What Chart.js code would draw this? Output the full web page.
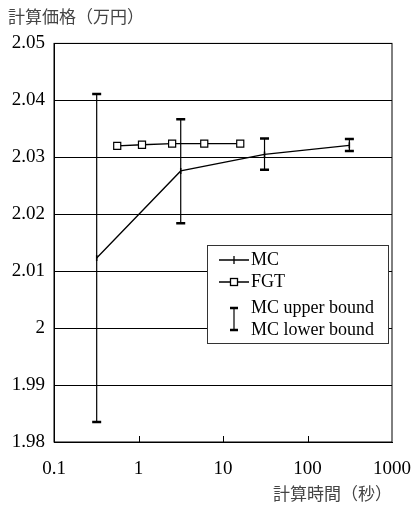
<!DOCTYPE html>
<html>
<head>
<meta charset="utf-8">
<script src="https://cdn.jsdelivr.net/npm/chart.js@4"></script>
<style>
  html, body { margin: 0; padding: 0; background: #fff; }
  #wrap { width: 416px; height: 507px; }
</style>
</head>
<body>
<div id="wrap"><canvas id="myChart" width="416" height="507"></canvas></div>
<script>
"use strict";
// 計算時間 (秒) と 計算価格 (万円)
const mcTime = [0.32, 3.16, 31, 313];
const mcPrice = [2.0123, 2.0276, 2.0305, 2.0321];
const mcUpper = [2.0411, 2.0367, 2.0333, 2.0332];
const mcLower = [1.9835, 2.0184, 2.0278, 2.0311];

const fgtTime = [0.56, 1.1, 2.5, 6, 16];
const fgtPrice = [2.0320, 2.0322, 2.0324, 2.0324, 2.0324];

const xTicks = [0.1, 1, 10, 100, 1000];
const yMin = 1.98;
const yMax = 2.05;

const seriesLabels = ["MC", "FGT", "MC upper bound", "MC lower bound"];
const yTitle = "計算価格（万円）";
const xTitle = "計算時間（秒）";

const serif = "'Liberation Serif', 'DejaVu Serif', serif";
const jp = "'Noto Sans CJK JP', sans-serif";

// error bars for MC
const errorBars = {
  id: "errorBars",
  beforeDatasetsDraw(chart) {
    const { ctx, scales: { x, y } } = chart;
    ctx.save();
    ctx.strokeStyle = "#000";
    mcTime.forEach((t, i) => {
      const px = x.getPixelForValue(t);
      const top = y.getPixelForValue(mcUpper[i]);
      const bot = y.getPixelForValue(mcLower[i]);
      ctx.lineWidth = 1.2;
      ctx.beginPath();
      ctx.moveTo(px, top);
      ctx.lineTo(px, bot);
      ctx.stroke();
      ctx.lineWidth = 2.5;
      ctx.beginPath();
      ctx.moveTo(px - 4.5, top);
      ctx.lineTo(px + 4.5, top);
      ctx.moveTo(px - 4.5, bot);
      ctx.lineTo(px + 4.5, bot);
      ctx.stroke();
    });
    ctx.restore();
  },
};

// frame, inner ticks and the boxed legend
const frame = {
  id: "frame",
  afterDraw(chart) {
    const { ctx, chartArea: a, scales: { x } } = chart;
    ctx.save();
    ctx.strokeStyle = "#000";
    ctx.lineWidth = 1;
    ctx.strokeRect(a.left, a.top, a.right - a.left, a.bottom - a.top);
    xTicks.slice(1, -1).forEach((v) => {
      const px = Math.round(x.getPixelForValue(v)) + 0.5;
      ctx.beginPath();
      ctx.moveTo(px, a.bottom);
      ctx.lineTo(px, a.bottom - 6);
      ctx.stroke();
    });

    // legend
    const bx = 207.5, by = 245.5, bw = 181, bh = 98;
    ctx.fillStyle = "#fff";
    ctx.fillRect(bx, by, bw, bh);
    ctx.strokeStyle = "#333";
    ctx.strokeRect(bx, by, bw, bh);

    const sx = 234, tx = 251;
    const rows = [260, 282, 308, 330];
    ctx.strokeStyle = "#000";
    ctx.lineWidth = 1.3;
    ctx.beginPath();
    ctx.moveTo(219, rows[0]);
    ctx.lineTo(249, rows[0]);
    ctx.moveTo(sx, rows[0] - 4);
    ctx.lineTo(sx, rows[0] + 4);
    ctx.moveTo(219, rows[1]);
    ctx.lineTo(249, rows[1]);
    ctx.stroke();
    ctx.fillStyle = "#fff";
    ctx.fillRect(sx - 3.5, rows[1] - 3.5, 7, 7);
    ctx.strokeRect(sx - 3.5, rows[1] - 3.5, 7, 7);

    ctx.lineWidth = 1.2;
    ctx.beginPath();
    ctx.moveTo(sx, rows[2]);
    ctx.lineTo(sx, rows[3]);
    ctx.stroke();
    ctx.lineWidth = 2.5;
    ctx.beginPath();
    ctx.moveTo(sx - 4, rows[2]);
    ctx.lineTo(sx + 4, rows[2]);
    ctx.moveTo(sx - 4, rows[3]);
    ctx.lineTo(sx + 4, rows[3]);
    ctx.stroke();

    ctx.fillStyle = "#000";
    ctx.font = "18px " + serif;
    ctx.textBaseline = "middle";
    ctx.textAlign = "left";
    seriesLabels.forEach((s, i) => ctx.fillText(s, tx, rows[i]));
    ctx.restore();
  },
};

const ctx = document.getElementById("myChart").getContext("2d");
const myChart = new Chart(ctx, {
  type: "line",
  data: {
    datasets: [
      {
        label: seriesLabels[0],
        data: mcTime.map((t, i) => ({ x: t, y: mcPrice[i] })),
        borderColor: "#000",
        backgroundColor: "#000",
        borderWidth: 1.3,
        pointStyle: "line",
        rotation: 90,
        pointRadius: 3,
        pointBorderWidth: 1.5,
        tension: 0,
      },
      {
        label: seriesLabels[1],
        data: fgtTime.map((t, i) => ({ x: t, y: fgtPrice[i] })),
        borderColor: "#000",
        backgroundColor: "#fff",
        borderWidth: 1.3,
        pointStyle: "rect",
        pointRadius: 5,
        pointBorderWidth: 1.2,
        tension: 0,
      },
    ],
  },
  options: {
    responsive: false,
    animation: false,
    layout: {
      padding: { left: 8, right: 24, top: 0, bottom: 0 },
    },
    plugins: {
      legend: { display: false },
      tooltip: { enabled: false },
      title: {
        display: true,
        text: yTitle,
        align: "start",
        color: "#444",
        font: { family: jp, size: 17, weight: "normal" },
        padding: { top: 6, bottom: 17 },
      },
    },
    scales: {
      x: {
        type: "logarithmic",
        min: xTicks[0],
        max: xTicks[xTicks.length - 1],
        afterBuildTicks: (axis) => {
          axis.ticks = xTicks.map((v) => ({ value: v }));
        },
        afterFit: (axis) => {
          axis.height = 65;
          axis.paddingLeft = 0;
          axis.paddingRight = 0;
        },
        grid: { display: false, drawTicks: false },
        border: { display: true, color: "#000", width: 1 },
        ticks: {
          color: "#000",
          padding: 16,
          maxRotation: 0,
          autoSkip: false,
          font: { family: serif, size: 19 },
          callback: (v) => String(v),
        },
        title: {
          display: true,
          text: xTitle,
          align: "end",
          color: "#444",
          font: { family: jp, size: 17, weight: "normal" },
          padding: { top: 0, bottom: 3 },
        },
      },
      y: {
        min: yMin,
        max: yMax,
        afterFit: (axis) => {
          axis.width = 46;
          axis.paddingTop = 0;
          axis.paddingBottom = 0;
        },
        grid: { color: "#000", lineWidth: 1, drawTicks: false },
        border: { display: true, color: "#000", width: 1 },
        ticks: {
          stepSize: 0.01,
          color: "#000",
          padding: 9,
          font: { family: serif, size: 19 },
          callback: (v) => String(Number(v.toFixed(2))),
        },
      },
    },
  },
  plugins: [errorBars, frame],
});
</script>
</body>
</html>
